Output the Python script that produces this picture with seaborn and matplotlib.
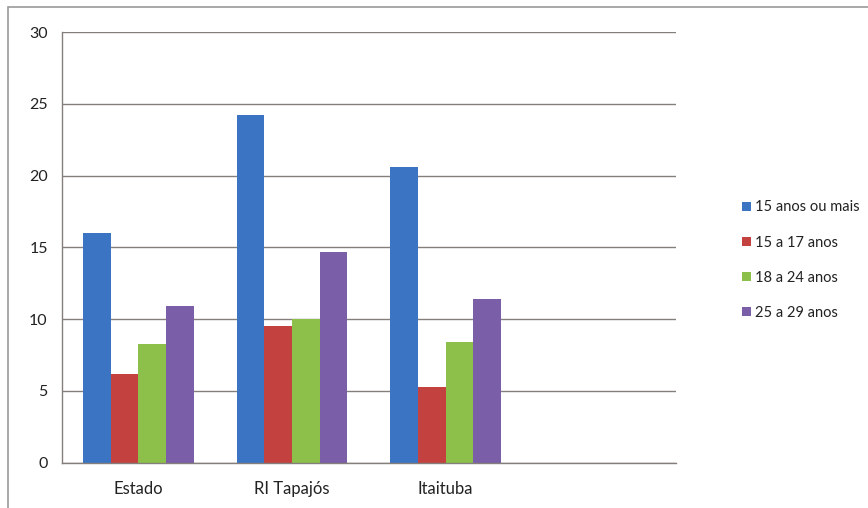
import pandas as pd
import seaborn as sns
import matplotlib.pyplot as plt
from matplotlib.patches import Rectangle

# Data
regioes = ["Estado", "RI Tapajós", "Itaituba"]
faixas = ["15 anos ou mais", "15 a 17 anos", "18 a 24 anos", "25 a 29 anos"]
v_15_mais = [16.0, 24.2, 20.6]
v_15_17 = [6.2, 9.5, 5.3]
v_18_24 = [8.3, 10.0, 8.4]
v_25_29 = [10.9, 14.7, 11.4]
cores = ["#3b74c2", "#c3413f", "#8cc04b", "#7b5ea8"]

rows = []
for faixa, vals in zip(faixas, [v_15_mais, v_15_17, v_18_24, v_25_29]):
    for reg, v in zip(regioes, vals):
        rows.append({"Região": reg, "Faixa": faixa, "Valor": v})
df = pd.DataFrame(rows)

sns.set_style("white")
plt.rcParams["font.family"] = ["Lato", "DejaVu Sans"]
plt.rcParams["text.color"] = "#222222"
plt.rcParams["xtick.labelcolor"] = "#222222"
plt.rcParams["ytick.labelcolor"] = "#222222"

fig = plt.figure(figsize=(8.68, 5.08), dpi=100)
ax = fig.add_axes([0.071, 0.089, 0.708, 0.848])

order = regioes + [" "]
sns.barplot(data=df, x="Região", y="Valor", hue="Faixa", order=order,
            hue_order=faixas, palette=cores, saturation=1, width=0.72,
            linewidth=0, ax=ax)

ax.set_xlim(-0.5, 3.5)
ax.set_ylim(0, 30)
ax.set_yticks(range(0, 31, 5))
ax.yaxis.grid(True, color="#857f7c", linewidth=1)
ax.set_axisbelow(True)
ax.set_xlabel("")
ax.set_ylabel("")
ax.set_xticks(range(4))
ax.set_xticklabels(regioes + [""])
ax.set_xticks([-0.5, 0.5, 1.5, 2.5, 3.5], minor=True)
ax.tick_params(axis="x", which="major", length=0, labelsize=12, pad=13)
ax.tick_params(axis="x", which="minor", length=5, color="#857f7c", direction="out")
ax.tick_params(axis="y", length=5, color="#857f7c", direction="out", labelsize=11.5, pad=5)
for s in ["top", "right"]:
    ax.spines[s].set_visible(False)
for s in ["left", "bottom"]:
    ax.spines[s].set_color("#857f7c")
    ax.spines[s].set_linewidth(1)

handles, labels = ax.get_legend_handles_labels()
ax.get_legend().remove()
fig.legend(handles, labels, loc="upper left", bbox_to_anchor=(0.848, 0.617),
           frameon=False, fontsize=10.5, handlelength=0.6, handleheight=0.6,
           handletextpad=0.3, labelspacing=1.45, borderaxespad=0)

fig.patches.append(Rectangle((0.009, -0.01), 1.0, 0.996, transform=fig.transFigure,
                             fill=False, edgecolor="#9a9a9a", linewidth=1.2))

fig.savefig("out.png", dpi=100)
